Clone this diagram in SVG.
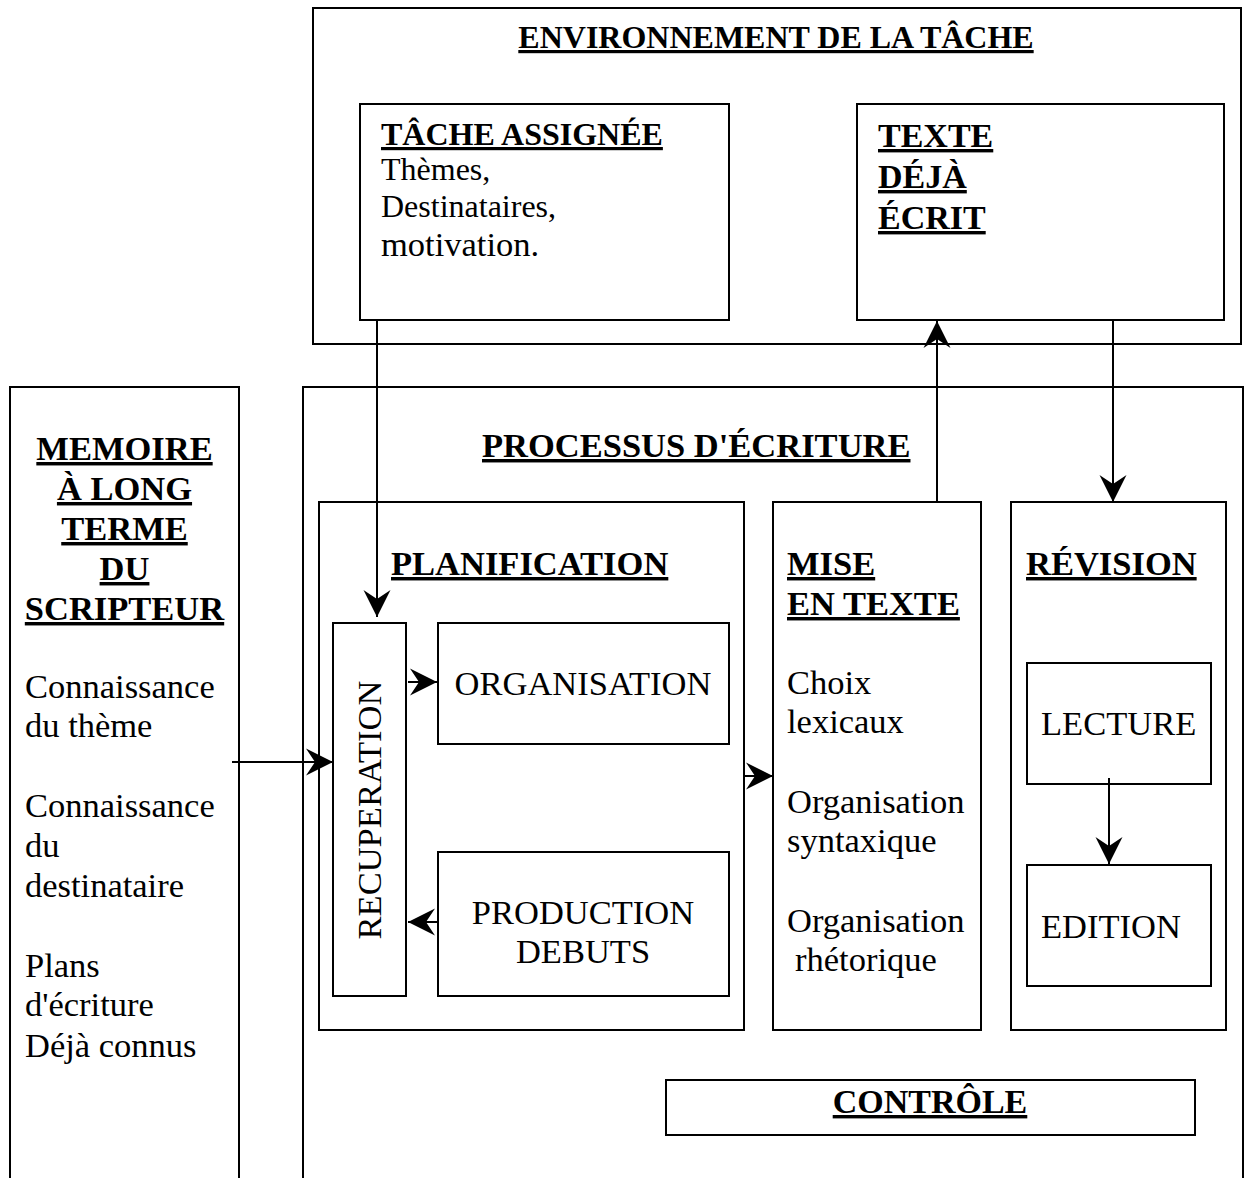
<svg xmlns="http://www.w3.org/2000/svg" width="1247" height="1180" viewBox="0 0 1247 1180">
<style>
  rect.box { fill: none; stroke: #000; stroke-width: 2; }
  line.edge { stroke: #000; stroke-width: 2; }
  .open { fill: none; stroke: #000; stroke-width: 2; }
  text { font-family: "Liberation Serif", "Times New Roman", serif; fill: #000; }
  .h { font-weight: bold; text-decoration: underline; font-size: 34.5px; }
  .b { font-size: 34.5px; }
</style>
<defs>
  <marker id="ah" markerUnits="userSpaceOnUse" markerWidth="30" markerHeight="30" viewBox="0 0 30 30" refX="28" refY="15" orient="auto">
    <path d="M1,1.5 L28,15 L1,28.5 L10,15 Z" fill="#000"/>
  </marker>
</defs>
<rect width="1247" height="1180" fill="#fff"/>

<g id="environnement">
  <rect class="box" x="313" y="8" width="928" height="336"/>
  <text x="776" y="48" text-anchor="middle" class="h" style="font-size:32px">ENVIRONNEMENT DE LA TÂCHE</text>
</g>

<g id="tache-assignee">
  <rect class="box" x="360" y="104" width="369" height="216"/>
  <text x="381" y="145" class="h" style="font-size:32px">TÂCHE ASSIGNÉE</text>
  <text x="381" y="180" style="font-size:32px">Thèmes,</text>
  <text x="381" y="217" style="font-size:32px">Destinataires,</text>
  <text x="381" y="256" class="b">motivation.</text>
</g>

<g id="texte-deja-ecrit">
  <rect class="box" x="857" y="104" width="367" height="216"/>
  <text x="878" y="147" class="h" style="font-size:34px">TEXTE</text>
  <text x="878" y="188" class="h" style="font-size:34px">DÉJÀ</text>
  <text x="878" y="229" class="h" style="font-size:34px">ÉCRIT</text>
</g>

<g id="memoire">
  <path class="open" d="M10,1178 V387 H239 V1178"/>
  <text x="124.5" y="460" text-anchor="middle" class="h">MEMOIRE</text>
  <text x="124.5" y="500" text-anchor="middle" class="h">À LONG</text>
  <text x="124.5" y="540" text-anchor="middle" class="h">TERME</text>
  <text x="124.5" y="580" text-anchor="middle" class="h">DU</text>
  <text x="124.5" y="620" text-anchor="middle" class="h">SCRIPTEUR</text>
  <text x="25" y="698" class="b">Connaissance</text>
  <text x="25" y="737" class="b">du thème</text>
  <text x="25" y="817" class="b">Connaissance</text>
  <text x="25" y="857" class="b">du</text>
  <text x="25" y="897" class="b">destinataire</text>
  <text x="25" y="977" class="b">Plans</text>
  <text x="25" y="1016" class="b">d'écriture</text>
  <text x="25" y="1057" class="b">Déjà connus</text>
</g>

<g id="processus">
  <path class="open" d="M303,1178 V387 H1243 V1178"/>
  <text x="482" y="457" class="h">PROCESSUS D'ÉCRITURE</text>
</g>

<g id="planification">
  <rect class="box" x="319" y="502" width="425" height="528"/>
  <text x="391" y="575" class="h">PLANIFICATION</text>
</g>

<g id="recuperation">
  <rect class="box" x="333" y="623" width="73" height="373"/>
  <text transform="translate(381,810) rotate(-90)" text-anchor="middle" class="b">RECUPERATION</text>
</g>

<g id="organisation">
  <rect class="box" x="438" y="623" width="291" height="121"/>
  <text x="583" y="695" text-anchor="middle" class="b">ORGANISATION</text>
</g>

<g id="production">
  <rect class="box" x="438" y="852" width="291" height="144"/>
  <text x="583" y="924" text-anchor="middle" class="b">PRODUCTION</text>
  <text x="583" y="963" text-anchor="middle" class="b">DEBUTS</text>
</g>

<g id="mise-en-texte">
  <rect class="box" x="773" y="502" width="208" height="528"/>
  <text x="787" y="575" class="h">MISE</text>
  <text x="787" y="615" class="h">EN TEXTE</text>
  <text x="787" y="694" class="b">Choix</text>
  <text x="787" y="733" class="b">lexicaux</text>
  <text x="787" y="813" class="b">Organisation</text>
  <text x="787" y="852" class="b">syntaxique</text>
  <text x="787" y="932" class="b">Organisation</text>
  <text x="795" y="971" class="b">rhétorique</text>
</g>

<g id="revision">
  <rect class="box" x="1011" y="502" width="215" height="528"/>
  <text x="1026" y="575" class="h">RÉVISION</text>
</g>

<g id="lecture">
  <rect class="box" x="1027" y="663" width="184" height="121"/>
  <text x="1041" y="735" class="b">LECTURE</text>
</g>

<g id="edition">
  <rect class="box" x="1027" y="865" width="184" height="121"/>
  <text x="1041" y="938" class="b">EDITION</text>
</g>

<g id="controle">
  <rect class="box" x="666" y="1080" width="529" height="55"/>
  <text x="930" y="1113" text-anchor="middle" class="h" style="font-size:34px">CONTRÔLE</text>
</g>

<g id="connectors">
  <line class="edge" x1="377" y1="320" x2="377" y2="617" marker-end="url(#ah)"/>
  <line class="edge" x1="937" y1="502" x2="937" y2="321" marker-end="url(#ah)"/>
  <line class="edge" x1="1113" y1="320" x2="1113" y2="502" marker-end="url(#ah)"/>
  <line class="edge" x1="232" y1="762" x2="333" y2="762" marker-end="url(#ah)"/>
  <line class="edge" x1="408" y1="682" x2="437" y2="682" marker-end="url(#ah)"/>
  <line class="edge" x1="438" y1="922" x2="408" y2="922" marker-end="url(#ah)"/>
  <line class="edge" x1="744" y1="776" x2="773" y2="776" marker-end="url(#ah)"/>
  <line class="edge" x1="1109" y1="778" x2="1109" y2="864" marker-end="url(#ah)"/>
</g>
</svg>
